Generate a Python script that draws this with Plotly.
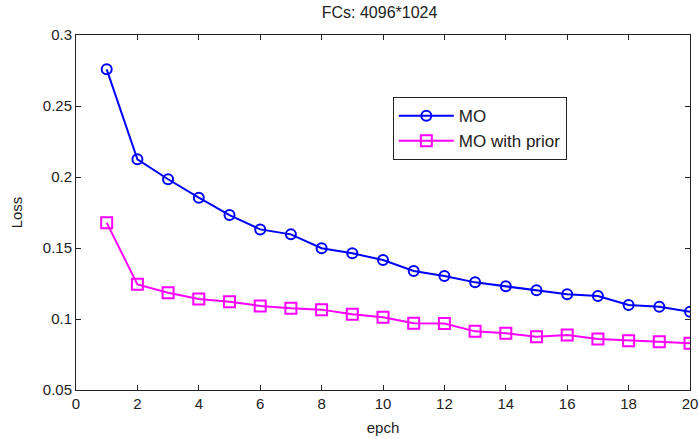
import plotly.graph_objects as go

epochs = list(range(1, 21))
mo = [0.2758, 0.2125, 0.1984, 0.1854, 0.1732, 0.1631, 0.1596, 0.1498, 0.1463, 0.1415,
      0.1338, 0.1303, 0.1258, 0.1230, 0.1202, 0.1174, 0.1162, 0.1099, 0.1087, 0.1051]
mo_prior = [0.1678, 0.1244, 0.1185, 0.1141, 0.1122, 0.1092, 0.1075, 0.1066, 0.1033, 0.1012,
            0.0970, 0.0968, 0.0913, 0.0899, 0.0875, 0.0887, 0.0859, 0.0847, 0.0840, 0.0829]
x_ticks = [0, 2, 4, 6, 8, 10, 12, 14, 16, 18, 20]
y_ticks = [0.05, 0.1, 0.15, 0.2, 0.25, 0.3]
y_tick_text = ["0.05", "0.1", "0.15", "0.2", "0.25", "0.3"]

FONT = "Liberation Sans, Arial, sans-serif"
INK = "#222222"

fig = go.Figure()
fig.add_trace(go.Scatter(
    x=epochs, y=mo, name="MO", mode="lines+markers",
    line=dict(color="#0000ff", width=2),
    marker=dict(symbol="circle-open", size=10, color="#0000ff", line=dict(width=2)),
))
fig.add_trace(go.Scatter(
    x=epochs, y=mo_prior, name="MO with prior", mode="lines+markers",
    line=dict(color="#ff00ff", width=2),
    marker=dict(symbol="square-open", size=11, color="#ff00ff", line=dict(width=2)),
))

axis_common = dict(
    showline=True, linecolor=INK, linewidth=1, mirror="ticks",
    ticks="inside", ticklen=5, tickcolor=INK, showgrid=False, zeroline=False,
    tickfont=dict(family=FONT, size=15, color=INK), automargin=False,
)

fig.update_layout(
    width=699, height=439,
    margin=dict(l=76, r=9, t=35, b=49),
    paper_bgcolor="white", plot_bgcolor="white",
    title=dict(text="FCs: 4096*1024", x=0.543, xanchor="center", y=0.9715, yanchor="middle",
               font=dict(family=FONT, size=16, color=INK)),
    xaxis=dict(range=[0, 20], tickvals=x_ticks,
               title=dict(text="epch", standoff=11, font=dict(family=FONT, size=15, color=INK)),
               **axis_common),
    yaxis=dict(range=[0.05, 0.3], tickvals=y_ticks, ticktext=y_tick_text,
               title=dict(text="Loss", standoff=16, font=dict(family=FONT, size=15, color=INK)),
               **axis_common),
    legend=dict(x=0.516, y=0.825, xanchor="left", yanchor="top",
                bordercolor=INK, borderwidth=1, bgcolor="white",
                font=dict(family=FONT, size=17, color=INK),
                tracegroupgap=0, itemwidth=55),
    showlegend=True,
)

fig.write_html("out.html", config={"displayModeBar": False},
               post_script="document.body.style.margin='0px';")
